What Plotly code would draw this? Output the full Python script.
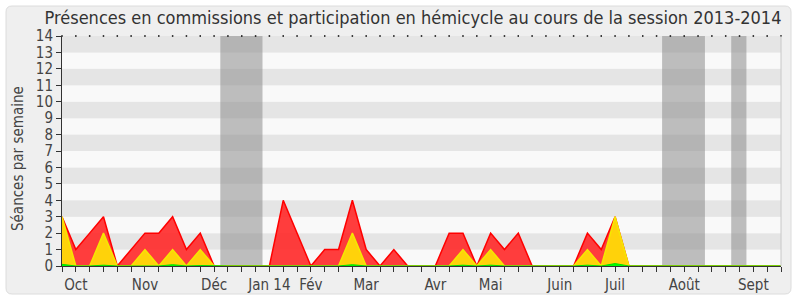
import plotly.graph_objects as go

# weeks of the session (0 = start of October 2013)
weeks = list(range(53))
# red: total sessions per week
red_vals = [3, 1, 2, 3, 0, 1, 2, 2, 3, 1, 2, 0, 0, 0, 0, 0, 4, 2, 0, 1,
            1, 4, 1, 0, 1, 0, 0, 0, 2, 2, 0, 2, 1, 2, 0, 0, 0, 0, 2, 1,
            3, 0, 0, 0, 0, 0, 0, 0, 0, 0, 0, 0, 0]
# yellow: commission presences
yellow_vals = [3, 0, 0, 2, 0, 0, 1, 0, 1, 0, 1, 0, 0, 0, 0, 0, 0, 0, 0, 0,
               0, 2, 0, 0, 0, 0, 0, 0, 0, 1, 0, 1, 0, 0, 0, 0, 0, 0, 1, 0,
               3, 0, 0, 0, 0, 0, 0, 0, 0, 0, 0, 0, 0]
# green: small interventions
green_vals = [0.1, 0, 0, 0.05, 0, 0, 0.03, 0, 0.08, 0, 0.03, 0, 0, 0, 0, 0, 0, 0, 0, 0,
              0, 0.08, 0, 0, 0, 0, 0, 0, 0, 0.05, 0, 0.05, 0, 0, 0, 0, 0, 0, 0.05, 0,
              0.15, 0, 0, 0, 0, 0, 0, 0, 0, 0, 0, 0, 0]
month_weeks = [1, 6, 11, 15, 18, 22, 27, 31, 36, 40, 45, 50]
month_labels = ["Oct", "Nov", "Déc", "Jan 14", "Fév", "Mar", "Avr", "Mai", "Juin", "Juil", "Août", "Sept"]
vacations = [(11.45, 14.5), (43.4, 46.5), (48.4, 49.5)]
y_ticks = list(range(15))

FONT = "DejaVu Sans Condensed, DejaVu Sans"

fig = go.Figure()
fig.add_trace(go.Scatter(x=weeks, y=red_vals, mode="lines", fill="tozeroy",
                         line=dict(color="#ff0000", width=1.5),
                         fillcolor="rgba(255,40,40,0.9)", hoverinfo="skip"))
fig.add_trace(go.Scatter(x=weeks, y=yellow_vals, mode="lines", fill="tozeroy",
                         line=dict(color="#f5e800", width=1.5),
                         fillcolor="#ffd20a", hoverinfo="skip"))
fig.add_trace(go.Scatter(x=weeks, y=green_vals, mode="lines", fill="tozeroy",
                         line=dict(color="#00e000", width=1),
                         fillcolor="#00ff00", hoverinfo="skip"))
fig.add_trace(go.Scatter(x=weeks, y=[14] * len(weeks), mode="markers",
                         marker=dict(symbol="square", size=1.5, color="#000000", line=dict(width=0)),
                         cliponaxis=False, hoverinfo="skip"))

# panel
L, R, T, B = 62, 781, 36, 266
W, H = R - L, B - T
def px(x):
    return (x - L) / W
def py(y):
    return (B - y) / H
x0p, x1p, y0p, y1p = 6, 791, 6, 294
r = 6
path = (f"M {px(x0p + r)} {py(y0p)} L {px(x1p - r)} {py(y0p)} Q {px(x1p)} {py(y0p)} {px(x1p)} {py(y0p + r)} "
        f"L {px(x1p)} {py(y1p - r)} Q {px(x1p)} {py(y1p)} {px(x1p - r)} {py(y1p)} "
        f"L {px(x0p + r)} {py(y1p)} Q {px(x0p)} {py(y1p)} {px(x0p)} {py(y1p - r)} "
        f"L {px(x0p)} {py(y0p + r)} Q {px(x0p)} {py(y0p)} {px(x0p + r)} {py(y0p)} Z")
shapes = [dict(type="path", path=path, xref="paper", yref="paper", layer="below",
               fillcolor="#efefef", line=dict(color="#dcdcdc", width=1))]
for k in range(0, 14):
    shapes.append(dict(type="rect", xref="x", yref="y", x0=0, x1=52, y0=k, y1=k + 1,
                       fillcolor="#e5e5e5" if k % 2 else "#f9f9f9", line=dict(width=0), layer="below"))
for a, b in vacations:
    shapes.append(dict(type="rect", xref="x", yref="y", x0=a, x1=b, y0=0, y1=14,
                       fillcolor="rgba(140,140,140,0.55)", line=dict(width=0), layer="below"))
shapes.append(dict(type="line", xref="paper", yref="paper", x0=1, x1=1, y0=0, y1=1,
                   line=dict(color="#c8c8c8", width=1)))

fig.update_layout(
    width=800, height=300,
    margin=dict(l=L, r=800 - R, t=T, b=300 - B, autoexpand=False),
    paper_bgcolor="#ffffff", plot_bgcolor="#f9f9f9",
    showlegend=False,
    shapes=shapes,
    title=dict(text="Présences en commissions et participation en hémicycle au cours de la session 2013-2014",
               x=413 / 800, xanchor="center", y=1 - 18 / 300, yanchor="middle",
               font=dict(family=FONT, size=18, color="#333333")),
    annotations=[dict(text="Séances par semaine", textangle=-90, xref="paper", yref="paper",
                      x=px(18), y=py(159), xanchor="center", yanchor="middle", showarrow=False,
                      font=dict(family=FONT, size=15, color="#444444"))],
)
fig.update_xaxes(range=[0, 52], tickmode="array", tickvals=weeks,
                 ticktext=[month_labels[month_weeks.index(w)] if w in month_weeks else "" for w in weeks],
                 ticks="outside", ticklen=5, tickcolor="#333333", tickwidth=1, automargin=False,
                 showgrid=False, zeroline=False, showline=True, linecolor="#333333", linewidth=1,
                 tickfont=dict(family=FONT, size=15, color="#444444"), fixedrange=True)
fig.update_yaxes(range=[0, 14], tickmode="array", tickvals=y_ticks,
                 ticks="outside", ticklen=5, tickcolor="#333333", tickwidth=1, automargin=False,
                 showgrid=False, zeroline=False, showline=True, linecolor="#333333", linewidth=1,
                 tickfont=dict(family=FONT, size=15, color="#444444"), fixedrange=True)

fig.write_html("out.html")
